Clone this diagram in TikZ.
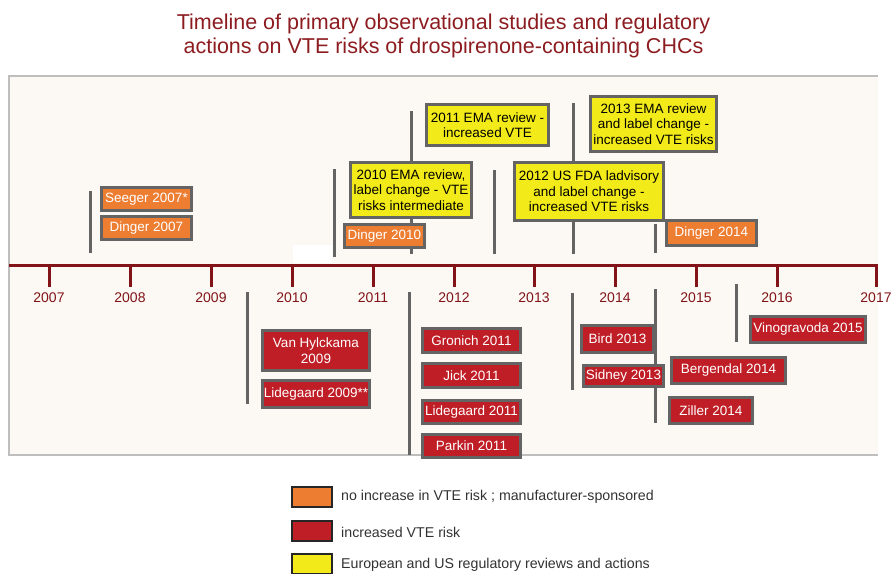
\documentclass[tikz,border=0pt]{standalone}
\usepackage{fontspec}
\setmainfont{Liberation Sans}
\definecolor{titlered}{RGB}{140,28,32}
\definecolor{axisred}{RGB}{130,20,25}
\definecolor{panelfill}{RGB}{252,249,244}
\definecolor{panelline}{RGB}{190,190,190}
\definecolor{boxline}{RGB}{100,100,100}
\definecolor{noinc}{RGB}{237,125,49}
\definecolor{inc}{RGB}{192,30,38}
\definecolor{reg}{RGB}{242,235,25}
\definecolor{legtext}{RGB}{50,50,50}
% box from corner (x1,y1) to corner (x2,y2), outer edge of its border
\newcommand\tlbox[7]{%
  \node[#1, minimum width={#5-#3-3}, minimum height={#6-#4-3}] (#2)
    at ({(#3+#5)/2},{(#4+#6)/2}) {#7};}
\begin{document}
\begin{tikzpicture}[x=1pt,y=-1pt,
  boxbase/.style={draw=boxline, line width=3pt, inner sep=0pt, align=center,
    font=\fontsize{13.5}{15.5}\selectfont},
  studyok/.style={boxbase, fill=noinc, text=white},
  studyrisk/.style={boxbase, fill=inc, text=white},
  action/.style={boxbase, fill=reg, text=black},
  marker/.style={draw=boxline, line width=3pt},
  year/.style={text=axisred, font=\fontsize{14}{16}\selectfont},
  titletext/.style={text=titlered, anchor=base, inner sep=0pt, font=\fontsize{21.5}{24}\selectfont},
  legsq/.style={draw=black!85, line width=2pt, minimum width=40pt, minimum height=20pt, inner sep=0pt},
  legtxt/.style={anchor=west, text=legtext, inner sep=0pt, font=\fontsize{14.2}{16}\selectfont}]
\useasboundingbox (0,0) rectangle (894,573);

% title
\node[titletext] (title1) at (443.5,29) {Timeline of primary observational studies and regulatory};
\node[titletext] (title2) at (443.5,53) {actions on VTE risks of drospirenone-containing CHCs};

% panel
\fill[panelfill] (9,76) rectangle (878,455);
\draw[panelline, line width=2pt] (878,76) -- (9,76) -- (9,455) -- (878,455);
\fill[white] (293,245) rectangle (332,263);

% axis with ticks and years
\draw[axisred, line width=3pt] (9,265) -- (878,265);
\foreach \x/\y in {49/2007,130/2008,211/2009,292/2010,373/2011,454/2012,534/2013,615/2014,696/2015,777/2016,876/2017}{
  \draw[axisred, line width=3pt] (\x,265) -- (\x,287);
  \node[year] (y\y) at (\x,298) {\y};
}

% date markers above the axis
\coordinate (a1t) at (90,191);  \coordinate (a1b) at (90,253);
\coordinate (a2t) at (334,169); \coordinate (a2b) at (334,257);
\coordinate (a3t) at (411,111); \coordinate (a3b) at (411,254);
\coordinate (a4t) at (494,170); \coordinate (a4b) at (494,254);
\coordinate (a5t) at (573,103); \coordinate (a5b) at (573,254);
\coordinate (a6t) at (655,224); \coordinate (a6b) at (655,253);
\foreach \i in {1,...,6}{\draw[marker] (a\i t) -- (a\i b);}

% date markers below the axis
\coordinate (b1t) at (247,292); \coordinate (b1b) at (247,404);
\coordinate (b2t) at (409,292); \coordinate (b2b) at (409,455);
\coordinate (b3t) at (572,293); \coordinate (b3b) at (572,390);
\coordinate (b4t) at (655,289); \coordinate (b4b) at (655,423);
\coordinate (b5t) at (736,284); \coordinate (b5b) at (736,342);
\foreach \i in {1,...,5}{\draw[marker] (b\i t) -- (b\i b);}

% studies, no increase in risk
\tlbox{studyok}{seeger07}{100}{186}{193}{212}{Seeger 2007*}
\tlbox{studyok}{dinger07}{100}{215}{193}{241}{Dinger 2007}
\tlbox{studyok}{dinger10}{343}{223}{426}{249}{Dinger 2010}
\tlbox{studyok}{dinger14}{665}{219}{758}{247}{Dinger 2014}

% regulatory actions
\tlbox{action}{ema11}{425}{103}{550}{147}{2011 EMA review -\\increased VTE}
\tlbox{action}{ema10}{349}{161}{473}{219}{2010 EMA review,\\label change - VTE\\risks intermediate}
\tlbox{action}{fda12}{513}{161}{665}{222}{2012 US FDA ladvisory\\and label change -\\increased VTE risks}
\tlbox{action}{ema13}{589}{95}{718}{153}{2013 EMA review\\and label change -\\increased VTE risks}

% studies, increased risk
\tlbox{studyrisk}{vanhyl09}{261}{329}{371}{372}{Van Hylckama\\2009}
\tlbox{studyrisk}{lide09}{261}{379}{371}{409}{Lidegaard 2009**}
\tlbox{studyrisk}{gronich11}{421}{327}{522}{354}{Gronich 2011}
\tlbox{studyrisk}{jick11}{421}{362}{522}{389}{Jick 2011}
\tlbox{studyrisk}{lide11}{421}{399}{522}{425}{Lidegaard 2011}
\tlbox{studyrisk}{parkin11}{421}{433}{522}{459}{Parkin 2011}
\tlbox{studyrisk}{bird13}{580}{324}{655}{354}{Bird 2013}
\tlbox{studyrisk}{sidney13}{582}{364}{665}{388}{Sidney 2013}
\tlbox{studyrisk}{berg14}{670}{356}{787}{385}{Bergendal 2014}
\tlbox{studyrisk}{ziller14}{668}{396}{754}{425}{Ziller 2014}
\tlbox{studyrisk}{vino15}{749}{315}{867}{344}{Vinogravoda 2015}

% legend
\node[legsq, fill=noinc] (lg1) at (312,497) {};
\node[legsq, fill=inc]   (lg2) at (312,531) {};
\node[legsq, fill=reg]   (lg3) at (312,564) {};
\node[legtxt] (lt1) at (341,497) {no increase in VTE risk ; manufacturer-sponsored};
\node[legtxt] (lt2) at (341,532) {increased VTE risk};
\node[legtxt] (lt3) at (341,565) {European and US regulatory reviews and actions};
\end{tikzpicture}
\end{document}
